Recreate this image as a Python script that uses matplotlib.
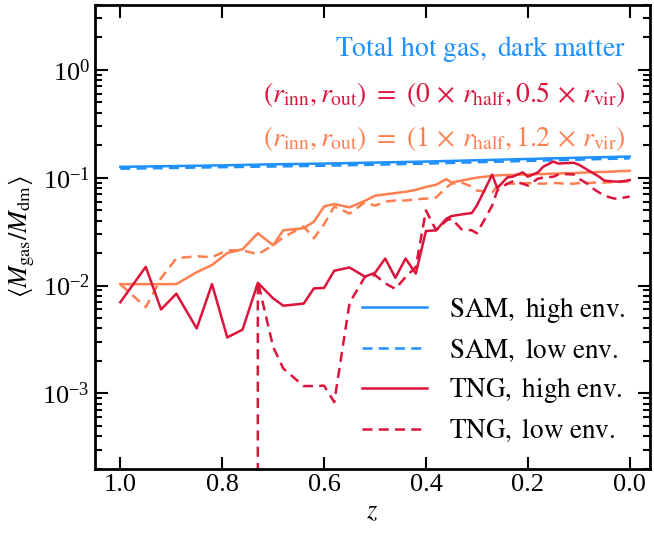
import numpy as np
import matplotlib
matplotlib.use("Agg")
import matplotlib.pyplot as plt

plt.rcParams["font.family"] = ["Liberation Serif", "DejaVu Serif"]
plt.rcParams["mathtext.fontset"] = "stix"

# TNG snapshot redshifts between z=1 and z=0
z_tng = [1.0, 0.95, 0.92, 0.89, 0.85, 0.82, 0.79, 0.76, 0.73, 0.70,
         0.68, 0.64, 0.62, 0.60, 0.58, 0.55, 0.52, 0.50, 0.48, 0.46,
         0.44, 0.42, 0.40, 0.38, 0.36, 0.35, 0.33, 0.31, 0.30, 0.27,
         0.26, 0.24, 0.23, 0.21, 0.20, 0.18, 0.17, 0.15, 0.14, 0.13,
         0.11, 0.10, 0.08, 0.07, 0.06, 0.05, 0.03, 0.02, 0.01, 0.0]

# SAM, total hot gas over dark matter
z_sam = [1.0, 0.9, 0.8, 0.7, 0.6, 0.5, 0.4, 0.3, 0.2, 0.1, 0.0]
sam_high = [0.126, 0.128, 0.130, 0.133, 0.135, 0.138, 0.141, 0.145, 0.149, 0.153, 0.157]
sam_low = [0.121, 0.123, 0.125, 0.127, 0.129, 0.132, 0.135, 0.139, 0.143, 0.147, 0.151]

# TNG, (0 x r_half, 0.5 x r_vir)
tng_inner_high = [0.0070, 0.0149, 0.0060, 0.0084, 0.0040, 0.0103, 0.0033, 0.0039, 0.0106, 0.0076,
                  0.0065, 0.0068, 0.0094, 0.0095, 0.0137, 0.0147, 0.0121, 0.0131, 0.0178, 0.0118,
                  0.0178, 0.0129, 0.032, 0.0325, 0.0416, 0.044, 0.0456, 0.047, 0.0552, 0.1066,
                  0.080, 0.1007, 0.102, 0.112, 0.102, 0.112, 0.126, 0.141, 0.135, 0.136,
                  0.1375, 0.132, 0.116, 0.109, 0.102, 0.094, 0.092, 0.092, 0.093, 0.095]
tng_inner_low = [0.0, 0.0, 0.0, 0.0, 0.0, 0.0, 0.0, 0.0, 0.0109, 0.0027,
                 0.0017, 0.00117, 0.00117, 0.00118, 0.00083, 0.0069, 0.012, 0.0125, 0.0105, 0.0093,
                 0.012, 0.0148, 0.0497, 0.0325, 0.040, 0.0418, 0.0332, 0.0325, 0.0305, 0.055,
                 0.076, 0.088, 0.092, 0.088, 0.0844, 0.098, 0.100, 0.102, 0.107, 0.108,
                 0.107, 0.098, 0.086, 0.078, 0.0728, 0.068, 0.064, 0.064, 0.0655, 0.0668]

# TNG, (1 x r_half, 1.2 x r_vir)
tng_outer_high = [0.0103, 0.0103, 0.0103, 0.0103, 0.0133, 0.0155, 0.020, 0.0217, 0.0305, 0.0236,
                  0.0325, 0.034, 0.039, 0.054, 0.057, 0.053, 0.061, 0.068, 0.070, 0.072,
                  0.074, 0.077, 0.082, 0.086, 0.097, 0.090, 0.094, 0.098, 0.100, 0.104,
                  0.105, 0.106, 0.106, 0.107, 0.107, 0.108, 0.108, 0.109, 0.109, 0.110,
                  0.110, 0.111, 0.112, 0.112, 0.113, 0.113, 0.114, 0.115, 0.115, 0.116]
tng_outer_low = [0.0103, 0.0063, 0.0117, 0.0179, 0.0187, 0.0183, 0.0212, 0.0212, 0.0195, 0.0236,
                 0.028, 0.0353, 0.0274, 0.037, 0.054, 0.0465, 0.059, 0.055, 0.060, 0.0614,
                 0.0614, 0.063, 0.064, 0.0655, 0.081, 0.088, 0.090, 0.0826, 0.076, 0.073,
                 0.083, 0.088, 0.088, 0.088, 0.089, 0.088, 0.088, 0.089, 0.089, 0.088,
                 0.088, 0.089, 0.089, 0.090, 0.090, 0.090, 0.091, 0.091, 0.092, 0.092]

c_blue = "#1E90FF"
c_red = "#DC143C"
c_orange = "#FF7F50"
lw = 1.8

fig = plt.figure(figsize=(6.54, 5.37), dpi=100)
ax = fig.add_axes([0.145, 0.127, 0.849, 0.864])

ax.plot(z_tng, tng_outer_high, color=c_orange, lw=lw)
ax.plot(z_tng, tng_outer_low, color=c_orange, lw=lw, ls="--", dashes=(4, 2.5))
ax.plot(z_sam, sam_high, color=c_blue, lw=lw, label=r"$\mathrm{SAM,\ high\ env.}$")
ax.plot(z_sam, sam_low, color=c_blue, lw=lw, ls="--", dashes=(4, 2.5),
        label=r"$\mathrm{SAM,\ low\ env.}$")
ax.plot(z_tng, tng_inner_high, color=c_red, lw=lw, label=r"$\mathrm{TNG,\ high\ env.}$")
ax.plot(z_tng, tng_inner_low, color=c_red, lw=lw, ls="--", dashes=(4, 2.5),
        label=r"$\mathrm{TNG,\ low\ env.}$")

ax.set_yscale("log")
ax.set_ylim(2e-4, 4)
ax.set_xlim(1.05, -0.04)
ax.set_xticks([1.0, 0.8, 0.6, 0.4, 0.2, 0.0])
ax.set_xticklabels(["1.0", "0.8", "0.6", "0.4", "0.2", "0.0"])

ax.set_xlabel(r"$z$", fontsize=19)
ax.set_ylabel(r"$\langle M_{\rm gas}/M_{\rm dm}\rangle$", fontsize=19)

ax.tick_params(which="both", direction="in", top=True, right=True, labelsize=19, width=1.5)
ax.tick_params(which="major", length=9)
ax.tick_params(which="minor", length=5)
for s in ax.spines.values():
    s.set_linewidth(2)

ax.text(0.957, 0.905, r"$\mathrm{Total\ hot\ gas,\ dark\ matter}$", color=c_blue,
        fontsize=20, ha="right", va="center", transform=ax.transAxes)
ax.text(0.957, 0.806,
        r"$(r_{\rm inn},r_{\rm out})\ =\ (0\,\times\,r_{\rm half},0.5\,\times\,r_{\rm vir})$",
        color=c_red, fontsize=20, ha="right", va="center", transform=ax.transAxes)
ax.text(0.957, 0.711,
        r"$(r_{\rm inn},r_{\rm out})\ =\ (1\,\times\,r_{\rm half},1.2\,\times\,r_{\rm vir})$",
        color=c_orange, fontsize=20, ha="right", va="center", transform=ax.transAxes)

ax.legend(loc="lower right", frameon=False, fontsize=19.5, handlelength=2.4,
          handletextpad=0.8, labelspacing=0.42, bbox_to_anchor=(1.0, 0.0))

fig.savefig("out.png", dpi=100)
